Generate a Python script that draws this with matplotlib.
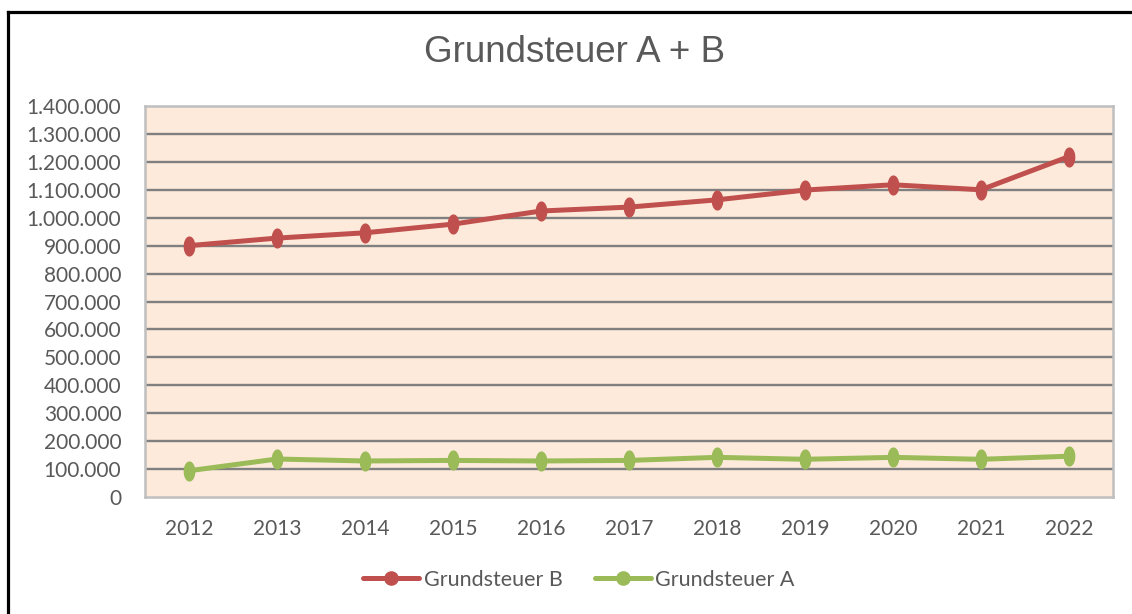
import numpy as np
import matplotlib
matplotlib.use("Agg")
import matplotlib.pyplot as plt
from matplotlib.lines import Line2D
from matplotlib.path import Path
from matplotlib.ticker import FuncFormatter, MultipleLocator

years = ["2012", "2013", "2014", "2015", "2016", "2017", "2018", "2019", "2020", "2021", "2022"]
grundsteuer_b = [900000, 927000, 946000, 977000, 1024000, 1038000, 1064000, 1099000, 1118000, 1100000, 1219000]
grundsteuer_a = [94000, 136000, 129000, 131000, 129000, 131000, 142000, 135000, 142000, 135000, 146000]

title = "Grundsteuer A + B"
label_b = "Grundsteuer B"
label_a = "Grundsteuer A"

RED = "#C0504D"
GREEN = "#9BBB59"
BG = "#FDEADA"
TXT = "#595959"

W, H = 1132, 614
fig = plt.figure(figsize=(W / 100, H / 100), dpi=100)
fig.patch.set_facecolor("white")

ax = fig.add_axes([145 / W, 1 - 497 / H, (1113 - 145) / W, (497 - 106) / H])
ax.set_facecolor(BG)

# elliptical marker (taller than wide) like the reference
t = np.linspace(0, 2 * np.pi, 40)
ell = Path(np.column_stack([0.55 * np.cos(t), np.sin(t)]))

x = np.arange(len(years))
ax.plot(x, grundsteuer_b, color=RED, lw=3.6, marker=ell, ms=13.5, zorder=3,
        solid_capstyle="round", solid_joinstyle="round")
ax.plot(x, grundsteuer_a, color=GREEN, lw=3.6, marker=ell, ms=13.5, zorder=3,
        solid_capstyle="round", solid_joinstyle="round")

ax.set_xlim(-0.5, len(years) - 0.5)
ax.set_ylim(0, 1400000)
ax.yaxis.set_major_locator(MultipleLocator(100000))
ax.yaxis.set_major_formatter(FuncFormatter(lambda v, p: f"{v:,.0f}".replace(",", ".")))
ax.set_xticks(x)
ax.set_xticklabels(years)

for y in range(100000, 1400000, 100000):
    ax.axhline(y, color="#808080", lw=1.7, zorder=1)

for s in ax.spines.values():
    s.set_color("#BFBFBF")
    s.set_linewidth(1.8)

ax.tick_params(axis="both", length=0, colors=TXT)
ax.tick_params(axis="y", pad=17)
ax.tick_params(axis="x", pad=16)
for lab in ax.get_yticklabels() + ax.get_xticklabels():
    lab.set_fontfamily(["Lato", "DejaVu Sans"])
    lab.set_fontsize(15)
    lab.set_color(TXT)

fig.text(575 / W, 1 - 53 / H, title, ha="center", va="center", color=TXT,
         fontsize=26.5, family=["Liberation Sans", "DejaVu Sans"])

handles = [
    Line2D([], [], color=RED, lw=3.6, marker="o", ms=9.5, solid_capstyle="round"),
    Line2D([], [], color=GREEN, lw=3.6, marker="o", ms=9.5, solid_capstyle="round"),
]
leg = fig.legend(handles, [label_b, label_a], loc="center", ncol=2,
                 bbox_to_anchor=(579 / W, 1 - 580 / H), frameon=False,
                 handlelength=2.6, handletextpad=0.2, columnspacing=1.5,
                 prop=dict(family=["Lato", "DejaVu Sans"], size=15.5))
for tx in leg.get_texts():
    tx.set_color(TXT)

# outer frame (top and left edges visible)
fig.add_artist(Line2D([8 / W, 1.0], [1 - 11.5 / H, 1 - 11.5 / H], transform=fig.transFigure,
                      color="black", lw=2.3, solid_capstyle="projecting"))
fig.add_artist(Line2D([8 / W, 8 / W], [1 - 11.5 / H, 0.0], transform=fig.transFigure,
                      color="black", lw=2.3, solid_capstyle="projecting"))

fig.savefig("out.png", dpi=100)
